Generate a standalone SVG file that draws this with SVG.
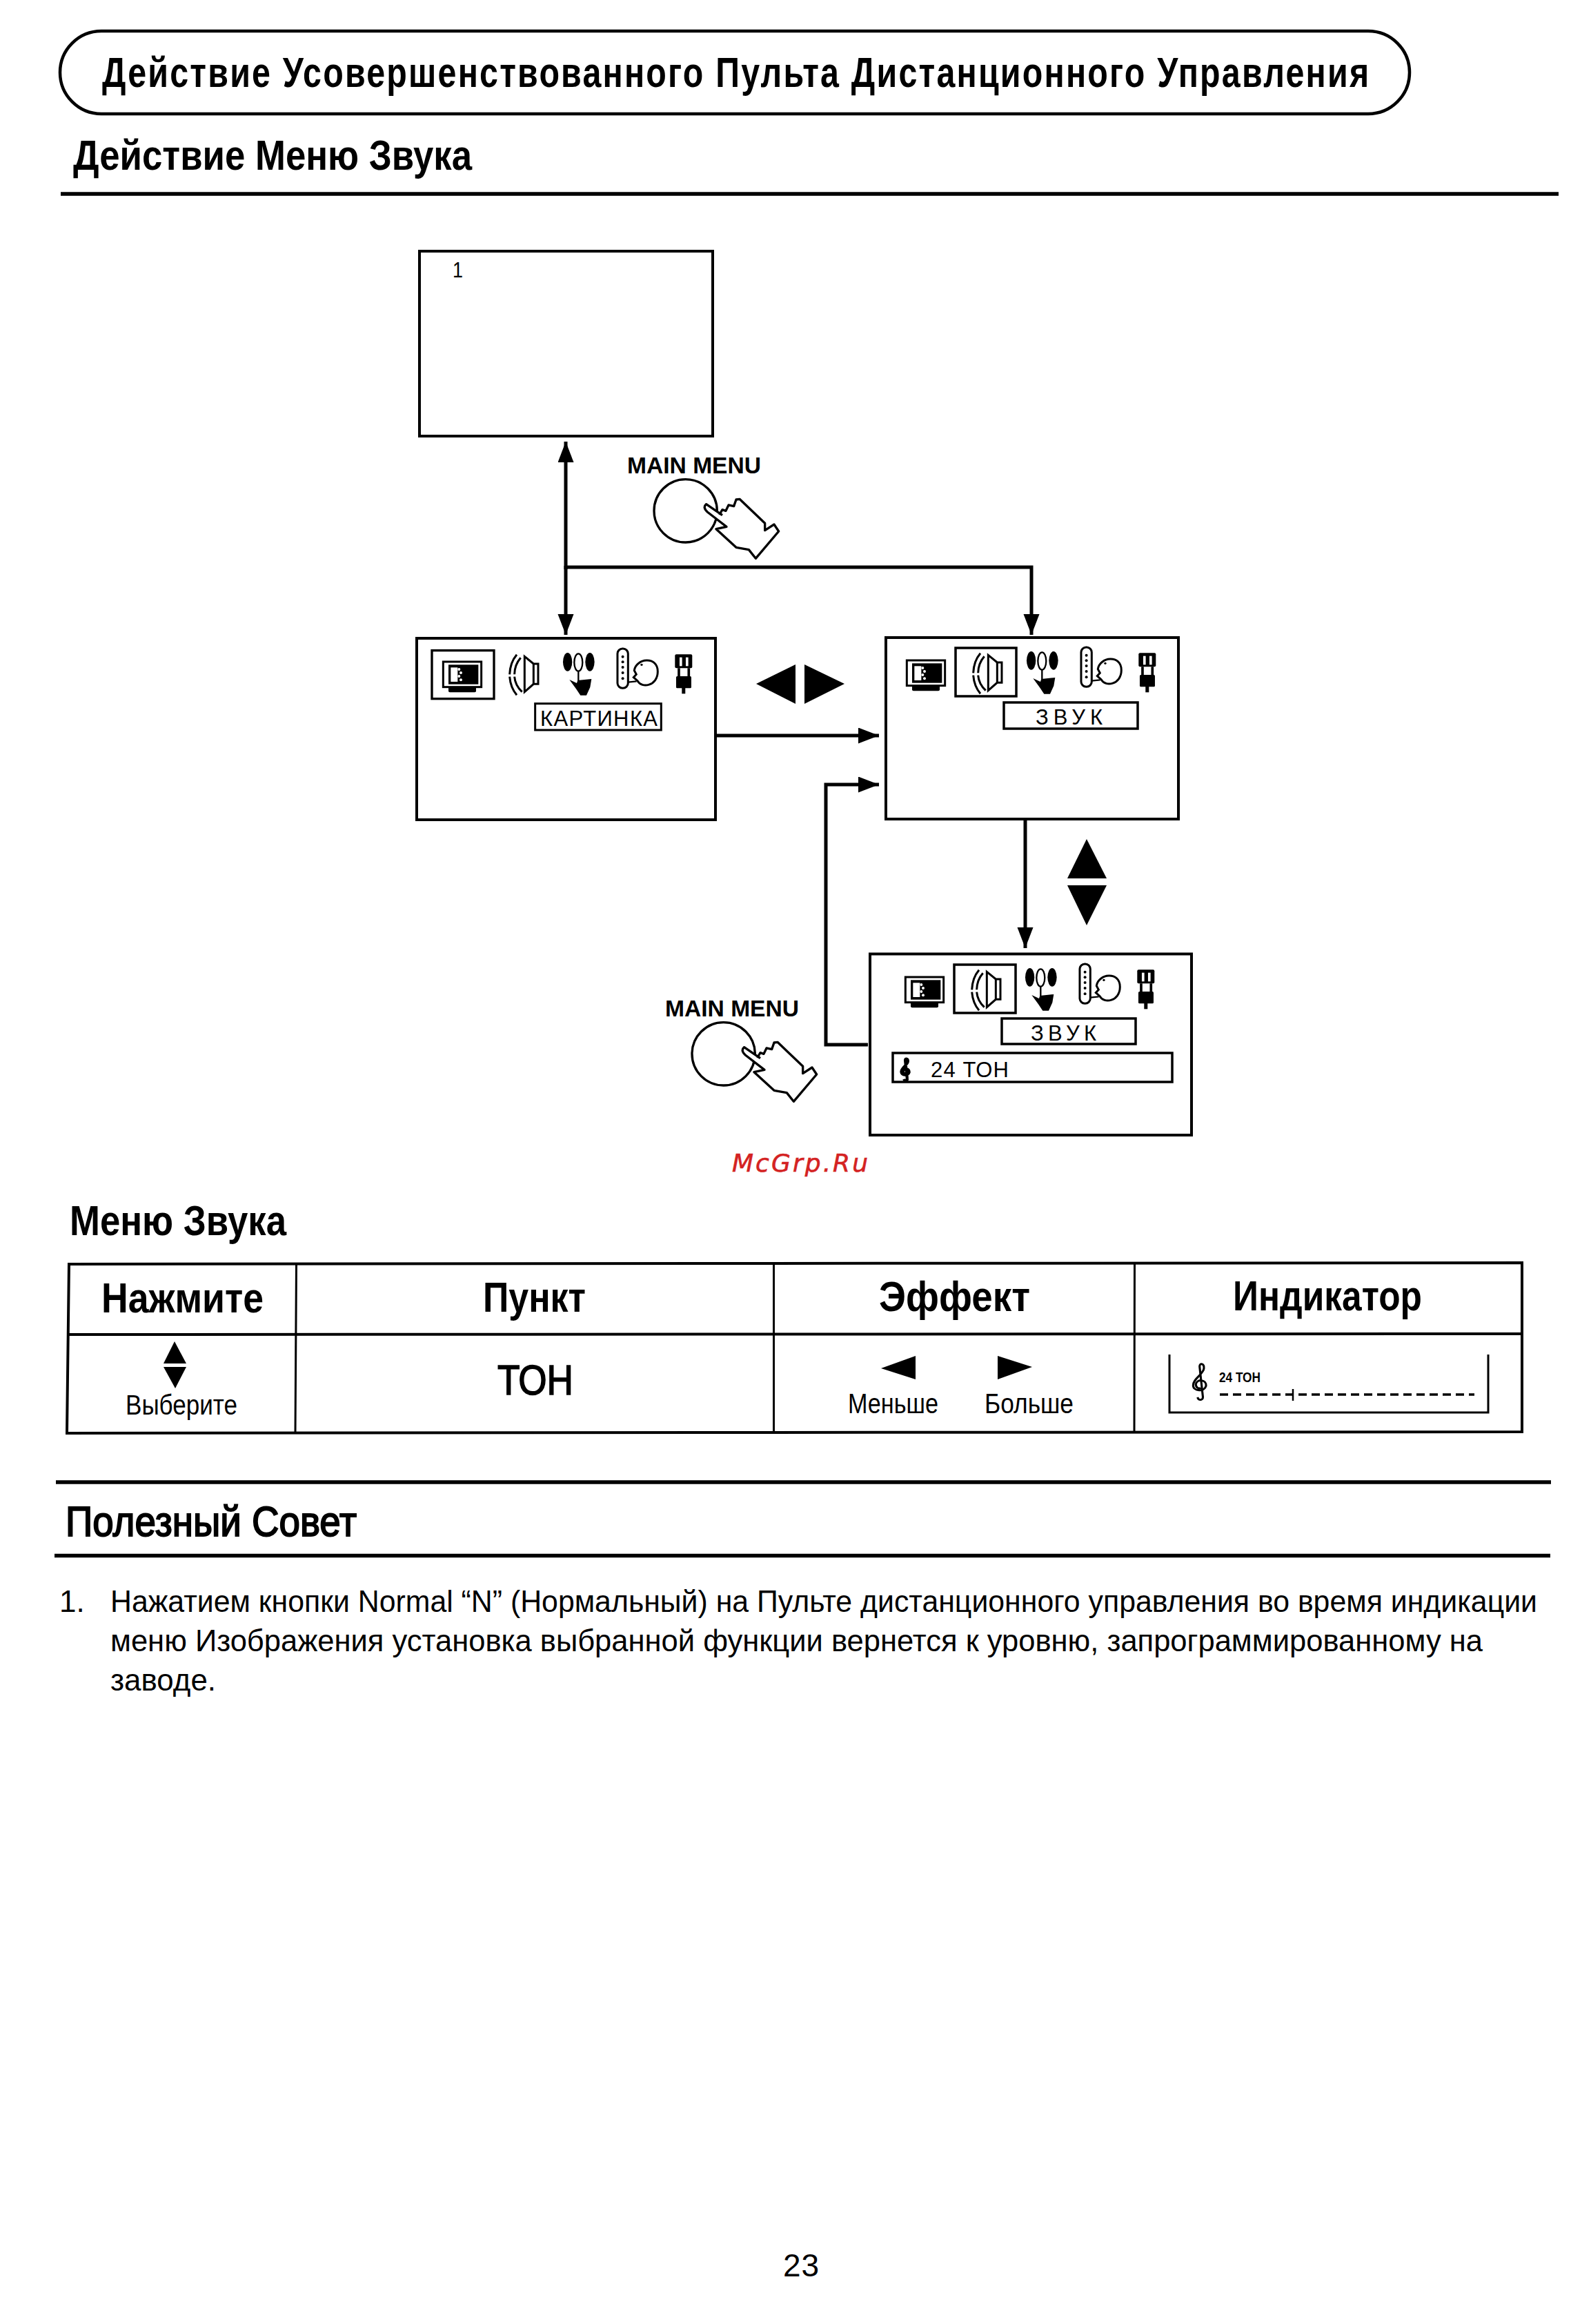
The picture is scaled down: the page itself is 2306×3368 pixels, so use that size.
<svg xmlns="http://www.w3.org/2000/svg" xmlns:xlink="http://www.w3.org/1999/xlink" width="2306" height="3368" viewBox="0 0 2306 3368">
<style>
text{font-family:"Liberation Sans",Arial,sans-serif;fill:#000}
.h{font-weight:700;font-size:62px}
.hm{font-weight:700;font-size:62px}
.b{font-size:44px}
.s{font-size:40px}
.osd{font-size:31px}
.mm{font-weight:700;font-size:33px}
.box{fill:#fff;stroke:#000;stroke-width:4}
.thin{fill:none;stroke:#000;stroke-width:3}
.rule{stroke:#000;stroke-width:5.5}
.tbl{stroke:#000;stroke-width:4}
.tblv{stroke:#000;stroke-width:3}
.con{fill:none;stroke:#000;stroke-width:5}
.i{fill:#fff;stroke:#000;stroke-width:9}
.n{fill:none;stroke:#000;stroke-width:9}
</style>
<defs>
<marker id="ah" markerUnits="userSpaceOnUse" markerWidth="32" markerHeight="24" refX="30" refY="11.5" orient="auto">
<path d="M0 0L30 11.5L0 23Z" fill="#000"/>
</marker>
<g id="icon-tv">
<rect x="150" y="225" width="120" height="25" rx="6" fill="#000"/>
<rect x="127" y="117" width="166" height="110" class="i"/>
<rect x="150" y="130" width="130" height="85" fill="#000"/>
<rect x="160" y="142" width="30" height="62" fill="#fff"/>
<circle cx="196" cy="150" r="6" fill="#fff"/><circle cx="204" cy="165" r="6" fill="#fff"/><circle cx="196" cy="180" r="6" fill="#fff"/><circle cx="204" cy="196" r="6" fill="#fff"/>
</g>
<g id="icon-speaker">
<path class="n" d="M447 86Q418 120 416 172M416 182Q420 230 447 262"/>
<path class="n" d="M464 100Q438 130 437 172M437 182Q440 220 470 248"/>
<path class="i" d="M481 94L520 126H540V214H520L481 248Z"/>
<path class="n" stroke-width="6" d="M520 126V214"/>
</g>
<g id="icon-joy">
<ellipse cx="668" cy="118" rx="20" ry="40" fill="#000"/>
<ellipse cx="715" cy="120" rx="18" ry="38" fill="#fff" stroke="#000" stroke-width="7"/>
<ellipse cx="765" cy="118" rx="20" ry="40" fill="#000"/>
<path d="M715 158V205" stroke="#000" stroke-width="7"/>
<path d="M676 195L708 210L712 198L772 192L766 228L750 263H724L705 235Z" fill="#000"/>
</g>
<g id="icon-remote">
<rect x="885" y="60" width="46" height="172" rx="22" class="i"/>
<circle cx="908" cy="95" r="6"/><circle cx="908" cy="118" r="6"/><circle cx="908" cy="141" r="6"/><circle cx="908" cy="165" r="6"/><circle cx="908" cy="190" r="6"/>
<path d="M931 206L968 202" stroke="#000" stroke-width="7"/>
<path class="i" stroke-width="8" d="M958 155C965 102 1060 90 1060 160C1060 222 990 235 972 200L955 185L967 172Z"/>
<circle cx="990" cy="130" r="5"/>
</g>
<g id="icon-plug">
<rect x="1135" y="85" width="75" height="60" rx="6" fill="#000"/>
<rect x="1155" y="98" width="11" height="38" fill="#fff"/><rect x="1182" y="98" width="11" height="38" fill="#fff"/>
<path d="M1152 145V185M1195 145V185" stroke="#000" stroke-width="11"/>
<rect x="1140" y="180" width="66" height="52" rx="5" fill="#000"/>
<rect x="1165" y="230" width="15" height="26" fill="#000"/>
</g>
<g id="icons">
<use href="#icon-speaker"/><use href="#icon-joy"/><use href="#icon-remote"/><use href="#icon-plug"/>
</g>
<g id="hand">
<circle cx="185" cy="301" r="137" fill="#fff" stroke="#000" stroke-width="10"/>
<path d="M332 318L345 296L360 301L372 276L395 281L405 252L420 250L530 355V386L570 360L590 390L490 508L460 470L405 460L318 380L363 370L280 306Q258 286 275 272L345 320" fill="#fff" stroke="#000" stroke-width="10" stroke-linejoin="round"/>
</g>
<path id="clef" d="M11 68C14 76 22 74 21 66L15 6C15 -2 24 0 23 10C22 22 3 30 3 44C3 56 24 58 27 45C28 32 10 30 8 42C8 48 13 52 17 49" fill="none" stroke="#000"/>
</defs>

<g id="title">
<rect x="87" y="45" width="1956" height="120" rx="60" fill="#fff" stroke="#000" stroke-width="4.5"/>
<text class="h" transform="translate(148 126) scale(.78 1)" x="0" y="0" textLength="2354" lengthAdjust="spacing">Действие Усовершенствованного Пульта Дистанционного Управления</text>
</g>
<g id="heading-1">
<text class="h" x="106" y="246" textLength="578" lengthAdjust="spacingAndGlyphs">Действие Меню Звука</text>
<line class="rule" x1="88" y1="281" x2="2259" y2="281"/>
</g>

<g id="connectors">
<path class="con" marker-end="url(#ah)" d="M820 825V640"/>
<path class="con" marker-end="url(#ah)" d="M820 820V920"/>
<path class="con" marker-end="url(#ah)" d="M820 822H1495V920"/>
<path class="con" marker-end="url(#ah)" d="M1037 1066H1274"/>
<path class="con" marker-end="url(#ah)" d="M1258 1514H1197V1137H1274"/>
<path class="con" marker-end="url(#ah)" d="M1486 1189V1374"/>
</g>

<g id="screen-0">
<rect class="box" x="608" y="364" width="425" height="268"/>
<text x="656" y="402" font-size="31" textLength="15" lengthAdjust="spacingAndGlyphs">1</text>
</g>

<g id="button-1">
<g transform="translate(932 640) scale(.3333)"><use href="#hand"/></g>
<text class="mm" x="909" y="686" textLength="194" lengthAdjust="spacingAndGlyphs">MAIN MENU</text>
</g>

<g id="screen-picture">
<rect class="box" x="604" y="925" width="433" height="263"/>
<g transform="translate(600 920) scale(.3333)">
<use href="#icons"/><use href="#icon-tv"/>
<rect x="78" y="68" width="270" height="210" fill="none" stroke="#000" stroke-width="10"/>
<rect x="527" y="299" width="548" height="115" fill="#fff" stroke="#000" stroke-width="9"/>
</g>
<text class="osd" x="783" y="1052" textLength="170" lengthAdjust="spacing">КАРТИНКА</text>
</g>

<g id="screen-sound">
<rect class="box" x="1284" y="924" width="424" height="263"/>
<g transform="translate(1272 918) scale(.3333)">
<use href="#icons"/><use href="#icon-tv"/>
</g>
<rect x="1385" y="939" width="88" height="70" fill="none" stroke="#000" stroke-width="3.500"/>
<rect x="1455" y="1018" width="194" height="38" fill="#fff" stroke="#000" stroke-width="3.500"/>
<text class="osd" x="1501" y="1050" textLength="97" lengthAdjust="spacing">ЗВУК</text>
</g>

<g id="screen-tone">
<rect class="box" x="1261" y="1382.500" width="466" height="262.500"/>
<g transform="translate(1270 1377) scale(.3333)">
<use href="#icons"/><use href="#icon-tv"/>
</g>
<rect x="1383" y="1398" width="89" height="70" fill="none" stroke="#000" stroke-width="3.500"/>
<rect x="1452" y="1476" width="194" height="37" fill="#fff" stroke="#000" stroke-width="3.500"/>
<text class="osd" x="1494" y="1508" textLength="95" lengthAdjust="spacing">ЗВУК</text>
<rect x="1294" y="1526" width="405" height="42" fill="#fff" stroke="#000" stroke-width="3.500"/>
<use href="#clef" transform="translate(1305 1534) scale(.47 .44)" stroke-width="9"/>
<text class="osd" x="1349" y="1561" textLength="113" lengthAdjust="spacing">24 ТОН</text>
</g>

<g id="button-2">
<g transform="translate(987 1427) scale(.3333)"><use href="#hand"/></g>
<text class="mm" x="964" y="1473" textLength="194" lengthAdjust="spacingAndGlyphs">MAIN MENU</text>
</g>

<g id="nav-left-right">
<path d="M1096 991L1153 963V1020Z"/>
<path d="M1166 963L1224 991L1166 1020Z"/>
</g>
<g id="nav-up-down">
<path d="M1575 1216L1604 1273H1547Z"/>
<path d="M1547 1283H1604L1575 1341Z"/>
</g>

<text id="watermark" x="1061" y="1698" font-size="36" font-style="italic" style="font-family:'DejaVu Sans',sans-serif;fill:#d42222;stroke:#d42222;stroke-width:.6" textLength="197">McGrp.Ru</text>

<g id="heading-2">
<text class="h" x="101" y="1790" textLength="314" lengthAdjust="spacingAndGlyphs">Меню Звука</text>
</g>

<g id="table">
<path class="tbl" fill="none" d="M100 1832L1120 1831L2206 1830V2075L1120 2076L97 2077Z"/>
<path class="tbl" d="M100 1934L1120 1933.500L2206 1933"/>
<path class="tblv" d="M429.500 1832L428 2077M1121.500 1831V2076M1644.500 1830L1644 2075"/>
<text class="hm" x="147" y="1902" textLength="235" lengthAdjust="spacingAndGlyphs">Нажмите</text>
<text class="hm" x="700" y="1901" textLength="149" lengthAdjust="spacingAndGlyphs">Пункт</text>
<text class="hm" x="1274" y="1900" textLength="219" lengthAdjust="spacingAndGlyphs">Эффект</text>
<text class="hm" x="1787" y="1899" textLength="274" lengthAdjust="spacingAndGlyphs">Индикатор</text>
<path d="M253 1944L270 1976H237Z"/>
<path d="M237 1981H270L254 2012Z"/>
<text class="s" x="182" y="2050" textLength="162" lengthAdjust="spacingAndGlyphs">Выберите</text>
<text x="721" y="2021" font-size="62" stroke="#000" stroke-width="1.600" textLength="110" lengthAdjust="spacingAndGlyphs">ТОН</text>
<path d="M1277 1983L1327 1965V1999Z"/>
<path d="M1446 1965L1496 1981L1446 1999Z"/>
<text class="s" x="1229" y="2048" textLength="131" lengthAdjust="spacingAndGlyphs">Меньше</text>
<text class="s" x="1427" y="2048" textLength="129" lengthAdjust="spacingAndGlyphs">Больше</text>
<path class="thin" d="M1695 1963V2047H2157V1963"/>
<use href="#clef" transform="translate(1727 1976) scale(.78 .72)" stroke-width="4"/>
<text x="1767" y="2003" font-size="20" font-weight="700" textLength="60" lengthAdjust="spacingAndGlyphs">24 ТОН</text>
<path d="M1768 2021H2137" stroke="#000" stroke-width="3.500" stroke-dasharray="12 7"/>
<path d="M1874 2013V2030" stroke="#000" stroke-width="2.500"/>
</g>

<g id="tip">
<line class="rule" x1="81" y1="2148" x2="2248" y2="2148"/>
<text class="h" x="95" y="2226" textLength="422" lengthAdjust="spacingAndGlyphs" style="font-weight:400" stroke="#000" stroke-width="2">Полезный Совет</text>
<line class="rule" x1="79" y1="2254.500" x2="2247" y2="2254.500"/>
<text class="b" x="86" y="2336" font-size="40">1.</text>
<text class="b" x="160" y="2336" textLength="2068" lengthAdjust="spacingAndGlyphs">Нажатием кнопки Normal “N” (Нормальный) на Пульте дистанционного управления во время индикации</text>
<text class="b" x="160" y="2393" textLength="1989" lengthAdjust="spacingAndGlyphs">меню Изображения установка выбранной функции вернется к уровню, запрограммированному на</text>
<text class="b" x="160" y="2450" textLength="153" lengthAdjust="spacingAndGlyphs">заводе.</text>
</g>

<text id="page" x="1135" y="3299" font-size="46" textLength="52">23</text>
</svg>
